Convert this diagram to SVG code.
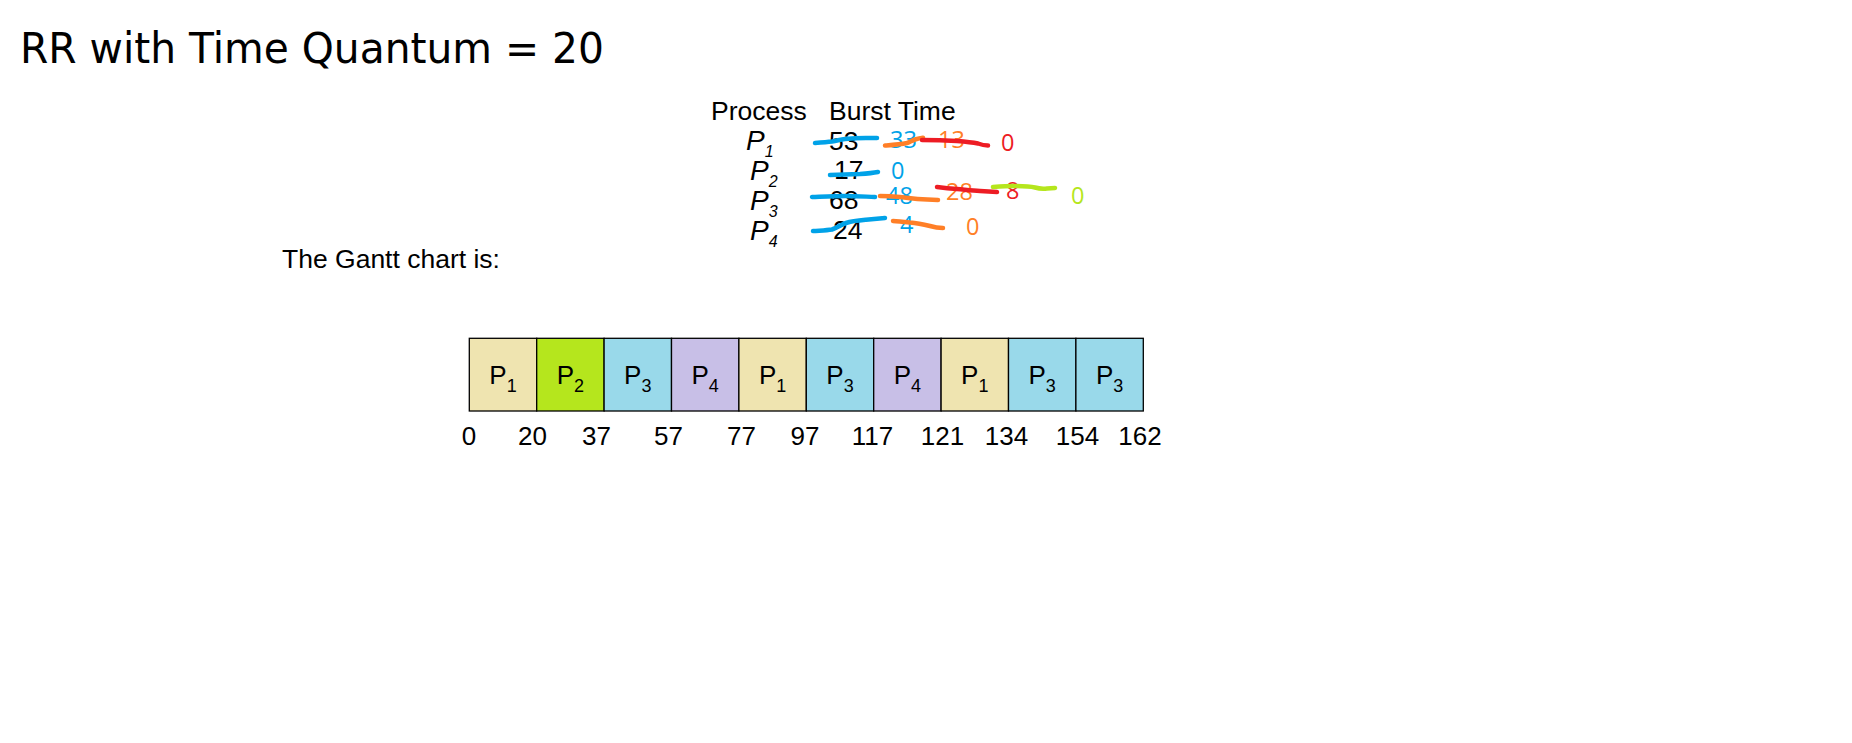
<svg xmlns="http://www.w3.org/2000/svg" width="1852" height="743" viewBox="0 0 1852 743">
<style>
.t{font-family:"Liberation Sans",Arial,sans-serif;font-size:26.5px;fill:#000}
.pi{font-family:"Liberation Sans",Arial,sans-serif;font-size:28px;font-style:italic;fill:#000}
.h{font-family:"Open Sans","Noto Sans",sans-serif;font-size:23.5px}
.s{fill:none;stroke-width:4.5;stroke-linecap:round;stroke-linejoin:round}
.blue{fill:#00A2E8}.orange{fill:#FF7F27}.red{fill:#ED1C24}.green{fill:#B5E61D}
.sb{stroke:#00A2E8}.so{stroke:#FF7F27}.sr{stroke:#ED1C24}.sg{stroke:#B5E61D}
.box{stroke:#000;stroke-width:1.3}
.gl{font-family:"Liberation Sans",Arial,sans-serif;font-size:26px;fill:#000;text-anchor:middle}
.num{font-family:"Liberation Sans",Arial,sans-serif;font-size:26px;fill:#000;text-anchor:middle}
</style>
<rect width="1852" height="743" fill="#fff"/>
<text id="title" x="20" y="63" font-family="DejaVu Sans, sans-serif" font-size="42" textLength="584" lengthAdjust="spacingAndGlyphs">RR with Time Quantum = 20</text>

<g id="table">
<text class="t" x="711" y="120">Process</text>
<text class="t" x="829" y="120">Burst Time</text>
<text class="pi" x="746" y="150">P<tspan font-size="16" dy="7">1</tspan></text>
<text class="pi" x="750" y="180">P<tspan font-size="16" dy="7">2</tspan></text>
<text class="pi" x="750" y="210">P<tspan font-size="16" dy="7">3</tspan></text>
<text class="pi" x="750" y="240">P<tspan font-size="16" dy="7">4</tspan></text>
<text class="t" x="829" y="150">53</text>
<text class="t" x="834" y="179">17</text>
<text class="t" x="829" y="209">68</text>
<text class="t" x="833" y="239">24</text>
<text class="h blue" x="890" y="148">33</text>
<text class="h orange" x="938" y="148">13</text>
<text class="h red" x="1001" y="151">0</text>
<text class="h blue" x="891" y="179">0</text>
<text class="h blue" x="886" y="204">48</text>
<text class="h orange" x="946" y="200">28</text>
<text class="h red" x="1006" y="199">8</text>
<text class="h green" x="1071" y="204">0</text>
<text class="h blue" x="900" y="233">4</text>
<text class="h orange" x="966" y="235">0</text>
</g>

<g id="strikes">
<path class="s sb" d="M815,143 C822,142.5 828,142 832,141.5 C838,140.5 840,139.5 845,139 C852,138.3 858,138 866,138 L877,138"/>
<path class="s so" d="M885,145.5 C892,145 900,144.5 907,143 C910,142 912,140.5 915,139.5 C918,138.5 920,138 923,137.7"/>
<path class="s sr" d="M922,140 C930,140 940,140 957,141 C966,141.7 973,142.5 978,143.5 C982,145 985,145.5 988,145.5"/>
<path class="s sb" d="M830,175 C840,174.7 850,174.3 860,174 C868,173.5 873,173 878,172"/>
<path class="s sb" d="M812,197 C825,196.5 835,196 845,196 C858,196 866,196.7 875,197"/>
<path class="s so" d="M880,196 C888,196 895,196.5 900,197 C910,198.5 920,199.5 938,200"/>
<path class="s sr" d="M937,187 C945,188 950,188.5 957,189 C965,189.7 972,190.5 980,191 L997,192"/>
<path class="s sg" d="M993,187 C1000,186.5 1007,186 1013,186 C1022,186 1030,186.3 1035,187.5 C1040,189 1043,189 1047,188.5 L1055,188"/>
<path class="s sb" d="M813,231 C820,230.5 826,230.5 832,229.5 C838,227.5 840,225 846,223 C852,221 858,220.5 866,219.8 C874,219 880,218.5 885,218"/>
<path class="s so" d="M893,221 C898,221.3 903,221.8 910,222.5 C917,223 922,224 930,226 C935,227.5 939,228 943,228"/>
</g>

<text id="caption" class="t" x="282" y="268">The Gantt chart is:</text>

<g id="gantt">
<g id="g1"><rect class="box" x="469.3" y="338.3" width="67.4" height="72.7" fill="#EFE4B0"/><text class="gl" x="503" y="384.3">P<tspan font-size="18" dy="7.4">1</tspan></text></g>
<g id="g2"><rect class="box" x="536.7" y="338.3" width="67.4" height="72.7" fill="#B5E61D"/><text class="gl" x="570.4" y="384.3">P<tspan font-size="18" dy="7.4">2</tspan></text></g>
<g id="g3"><rect class="box" x="604.1" y="338.3" width="67.4" height="72.7" fill="#99D9EA"/><text class="gl" x="637.8" y="384.3">P<tspan font-size="18" dy="7.4">3</tspan></text></g>
<g id="g4"><rect class="box" x="671.5" y="338.3" width="67.4" height="72.7" fill="#C8BFE7"/><text class="gl" x="705.2" y="384.3">P<tspan font-size="18" dy="7.4">4</tspan></text></g>
<g id="g5"><rect class="box" x="738.9" y="338.3" width="67.4" height="72.7" fill="#EFE4B0"/><text class="gl" x="772.6" y="384.3">P<tspan font-size="18" dy="7.4">1</tspan></text></g>
<g id="g6"><rect class="box" x="806.3" y="338.3" width="67.4" height="72.7" fill="#99D9EA"/><text class="gl" x="840" y="384.3">P<tspan font-size="18" dy="7.4">3</tspan></text></g>
<g id="g7"><rect class="box" x="873.7" y="338.3" width="67.4" height="72.7" fill="#C8BFE7"/><text class="gl" x="907.4" y="384.3">P<tspan font-size="18" dy="7.4">4</tspan></text></g>
<g id="g8"><rect class="box" x="941.1" y="338.3" width="67.4" height="72.7" fill="#EFE4B0"/><text class="gl" x="974.8" y="384.3">P<tspan font-size="18" dy="7.4">1</tspan></text></g>
<g id="g9"><rect class="box" x="1008.5" y="338.3" width="67.4" height="72.7" fill="#99D9EA"/><text class="gl" x="1042.2" y="384.3">P<tspan font-size="18" dy="7.4">3</tspan></text></g>
<g id="g10"><rect class="box" x="1075.9" y="338.3" width="67.4" height="72.7" fill="#99D9EA"/><text class="gl" x="1109.6" y="384.3">P<tspan font-size="18" dy="7.4">3</tspan></text></g>
</g>

<g id="times">
<text class="num" x="469" y="445">0</text>
<text class="num" x="532.5" y="445">20</text>
<text class="num" x="596.5" y="445">37</text>
<text class="num" x="668.5" y="445">57</text>
<text class="num" x="741.5" y="445">77</text>
<text class="num" x="805" y="445">97</text>
<text class="num" x="872.5" y="445">117</text>
<text class="num" x="942.5" y="445">121</text>
<text class="num" x="1006.5" y="445">134</text>
<text class="num" x="1077.5" y="445">154</text>
<text class="num" x="1140" y="445">162</text>
</g>
</svg>
